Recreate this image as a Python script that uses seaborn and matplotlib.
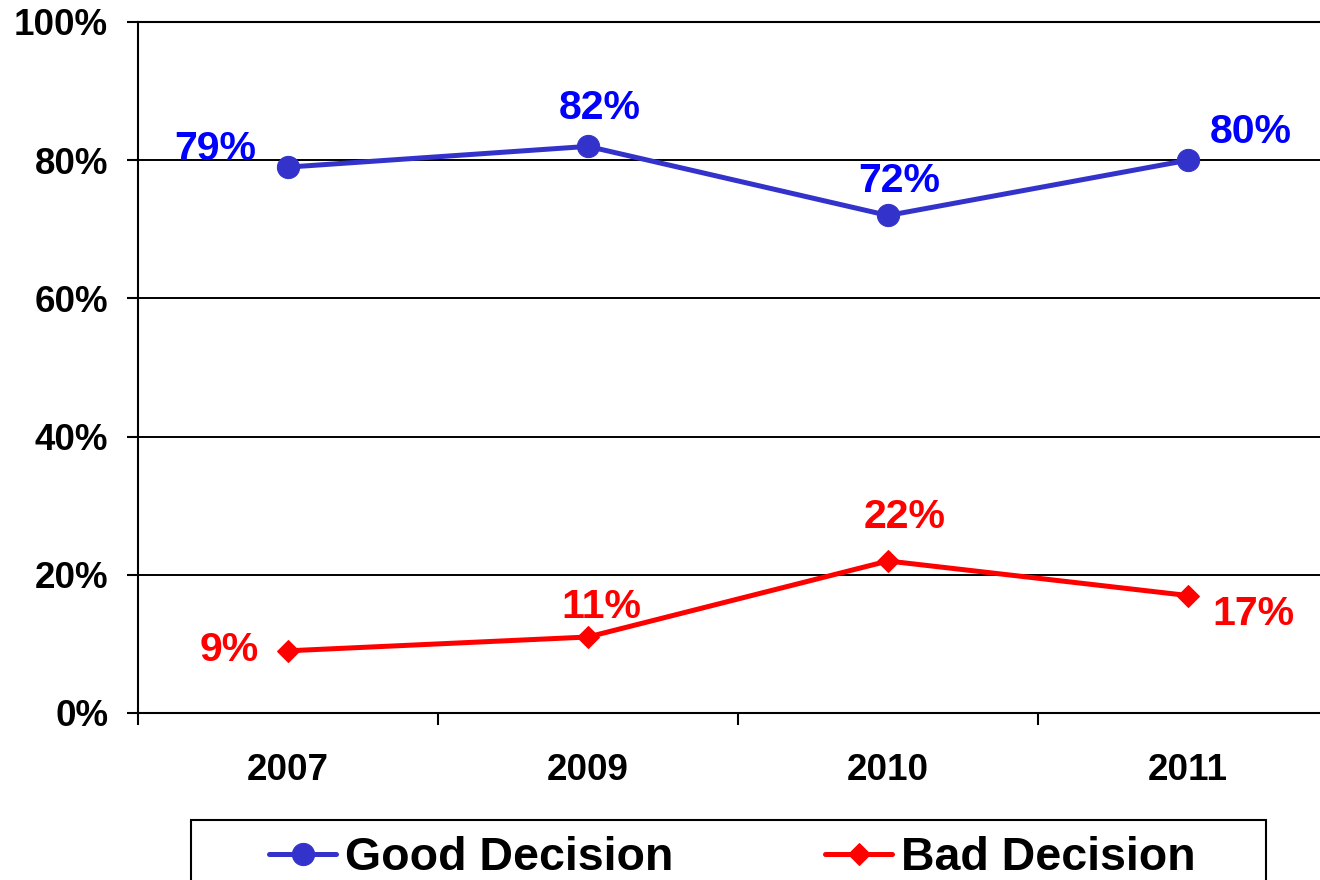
import matplotlib
matplotlib.use("Agg")
import matplotlib.pyplot as plt
from matplotlib.patches import Rectangle
import seaborn as sns
import pandas as pd

# Survey results by year
years = ["2007", "2009", "2010", "2011"]
good_decision = [79, 82, 72, 80]
bad_decision = [9, 11, 22, 17]
y_ticks = [0, 20, 40, 60, 80, 100]

# Label offsets from each point, in pixels (dx, dy)
good_offsets = [(-73, 7), (12, 27), (11, 23), (63, 17)]
bad_offsets = [(-59, -10), (13, 19), (17, 33), (65, -29)]

sns.set_theme(style="white")
plt.rcParams["font.family"] = ["Liberation Sans", "DejaVu Sans"]
plt.rcParams["font.weight"] = "bold"
plt.rcParams["text.color"] = "black"
plt.rcParams["xtick.color"] = "black"
plt.rcParams["ytick.color"] = "black"
plt.rcParams["xtick.labelcolor"] = "black"
plt.rcParams["ytick.labelcolor"] = "black"

BLUE_LINE = "#3333CC"
BLUE_TEXT = "#0000FF"
RED = "#FF0000"

df = pd.DataFrame({
    "pos": range(len(years)),
    "year": years,
    "Good Decision": good_decision,
    "Bad Decision": bad_decision,
})

W, H = 1320, 880
fig = plt.figure(figsize=(W / 100, H / 100), dpi=100)
ax = fig.add_axes([138 / W, 1 - 713 / H, 1200 / W, 691 / H])

sns.lineplot(data=df, x="pos", y="Good Decision", ax=ax, color=BLUE_LINE,
             marker="o", markersize=16, markeredgecolor=BLUE_LINE,
             linewidth=3.6, label="Good Decision")
sns.lineplot(data=df, x="pos", y="Bad Decision", ax=ax, color=RED,
             marker="D", markersize=11, markeredgecolor=RED,
             linewidth=3.6, label="Bad Decision")

# Value labels
for i, (v, off) in enumerate(zip(good_decision, good_offsets)):
    ax.annotate(f"{v}%", xy=(i, v), xytext=off, textcoords="offset pixels",
                ha="center", va="baseline", color=BLUE_TEXT,
                fontsize=29.5, fontweight="bold", annotation_clip=False)
for i, (v, off) in enumerate(zip(bad_decision, bad_offsets)):
    ax.annotate(f"{v}%", xy=(i, v), xytext=off, textcoords="offset pixels",
                ha="center", va="baseline", color=RED,
                fontsize=29.5, fontweight="bold", annotation_clip=False)

ax.set_xlim(-0.5, len(years) - 0.5)
ax.set_ylim(0, 100)

# Y axis
ax.set_yticks(y_ticks)
ax.set_yticklabels([f"{t}%" for t in y_ticks], fontsize=26.5,
                   fontweight="bold", color="black")
ax.tick_params(axis="y", which="major", direction="out", length=8, width=1.5,
               pad=13.5, color="black", left=True)
ax.yaxis.grid(True, color="black", linewidth=1.4)
ax.xaxis.grid(False)

# X axis: tick marks between categories, labels at the categories
ax.set_xticks([i - 0.5 for i in range(len(years) + 1)])
ax.set_xticklabels([])
ax.set_xticks(range(len(years)), minor=True)
ax.set_xticklabels(years, minor=True, fontsize=26.5, fontweight="bold",
                   color="black")
ax.tick_params(axis="x", which="major", direction="out", length=8.6, width=1.5,
               color="black", bottom=True)
ax.tick_params(axis="x", which="minor", length=0, pad=29)

ax.set_xlabel("")
ax.set_ylabel("")
for side in ["left", "bottom", "top", "right"]:
    ax.spines[side].set_color("black")
    ax.spines[side].set_linewidth(1.5)

# Legend
handles, labels = ax.get_legend_handles_labels()
ax.get_legend().remove()
fig.add_artist(Rectangle((191 / W, -0.1), (1266 - 191) / W, 0.1 + 60 / H,
                         transform=fig.transFigure, fill=False,
                         edgecolor="black", linewidth=1.5, clip_on=False))
leg = fig.legend(handles, labels, loc="upper left",
                 bbox_to_anchor=(269 / W, 1 - 836 / H), ncol=2, frameon=False,
                 borderpad=0, borderaxespad=0, handlelength=1.44,
                 handletextpad=0.19, columnspacing=3.27,
                 prop={"size": 33.5, "weight": "bold"})
for t in leg.get_texts():
    t.set_color("black")

fig.savefig("out.png", dpi=100)
